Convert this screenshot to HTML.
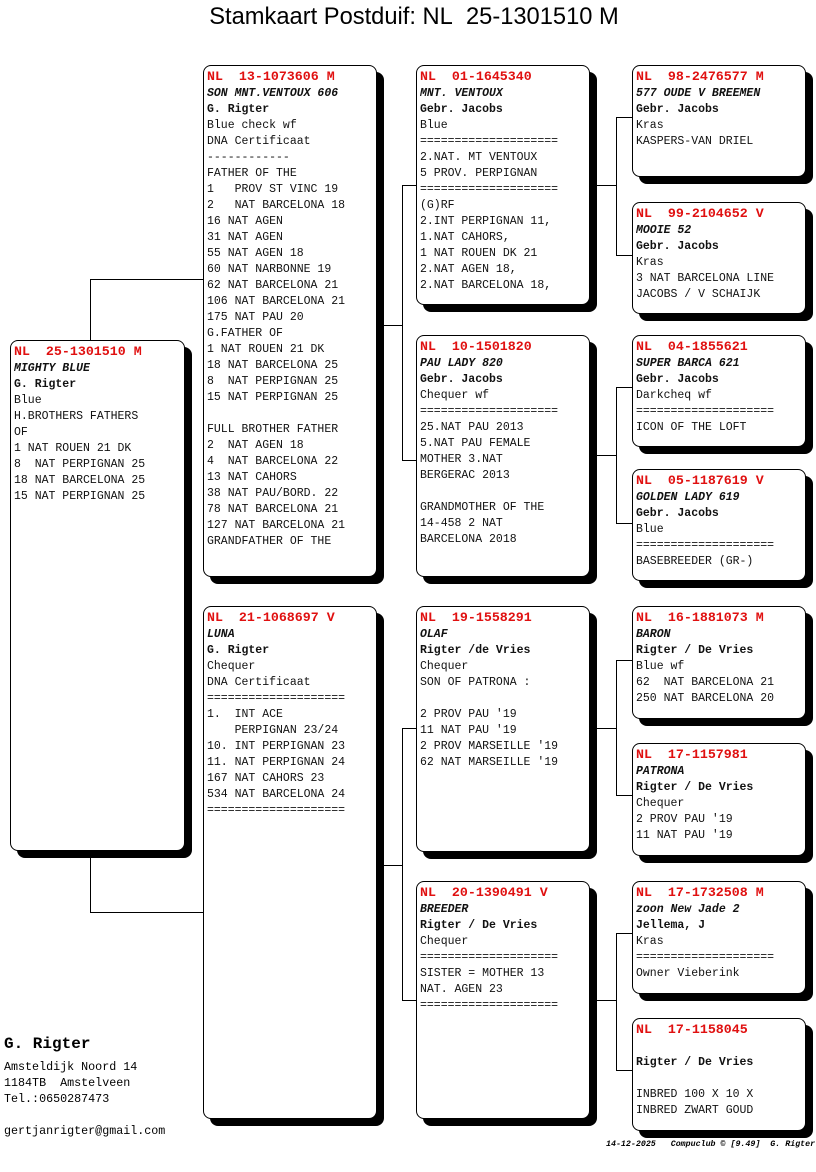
<!DOCTYPE html>
<html><head><meta charset="utf-8"><style>
body{margin:0;width:816px;height:1172px;background:#fff;position:relative;overflow:hidden;font-family:"Liberation Mono",monospace;}
.t{position:absolute;left:6px;width:816px;top:4px;text-align:center;font:23.7px "Liberation Sans",sans-serif;}
.b{position:absolute;border:1px solid #000;border-radius:8px;background:#fff;box-shadow:7px 7px 0 #000;box-sizing:border-box;padding:3px 0 0 3px;font-size:11.5px;line-height:16px;white-space:pre;color:#111;overflow:hidden}
.b .h{color:#e01010;font-weight:bold;font-size:13.3px}
.b .i{font-style:italic;font-weight:bold}
.b .o{font-weight:bold}
.l{position:absolute;background:#000}
.f{position:absolute;font-size:11.7px;line-height:16px;white-space:pre}
</style></head><body>
<div class="t">Stamkaart Postduif: NL&nbsp; 25-1301510 M</div>

<div class="l" style="left:90px;top:279px;width:1px;height:634px"></div>
<div class="l" style="left:90px;top:279px;width:113px;height:1px"></div>
<div class="l" style="left:90px;top:912px;width:113px;height:1px"></div>

<div class="l" style="left:383px;top:325px;width:19px;height:1px"></div>
<div class="l" style="left:402px;top:185px;width:1px;height:276px"></div>
<div class="l" style="left:402px;top:185px;width:14px;height:1px"></div>
<div class="l" style="left:402px;top:460px;width:14px;height:1px"></div>

<div class="l" style="left:383px;top:865px;width:19px;height:1px"></div>
<div class="l" style="left:402px;top:728px;width:1px;height:273px"></div>
<div class="l" style="left:402px;top:728px;width:14px;height:1px"></div>
<div class="l" style="left:402px;top:1000px;width:14px;height:1px"></div>

<div class="l" style="left:596px;top:185px;width:20px;height:1px"></div>
<div class="l" style="left:616px;top:117px;width:1px;height:139px"></div>
<div class="l" style="left:616px;top:117px;width:16px;height:1px"></div>
<div class="l" style="left:616px;top:255px;width:16px;height:1px"></div>

<div class="l" style="left:596px;top:455px;width:20px;height:1px"></div>
<div class="l" style="left:616px;top:387px;width:1px;height:137px"></div>
<div class="l" style="left:616px;top:387px;width:16px;height:1px"></div>
<div class="l" style="left:616px;top:523px;width:16px;height:1px"></div>

<div class="l" style="left:596px;top:728px;width:20px;height:1px"></div>
<div class="l" style="left:616px;top:660px;width:1px;height:136px"></div>
<div class="l" style="left:616px;top:660px;width:16px;height:1px"></div>
<div class="l" style="left:616px;top:795px;width:16px;height:1px"></div>

<div class="l" style="left:596px;top:1000px;width:20px;height:1px"></div>
<div class="l" style="left:616px;top:933px;width:1px;height:138px"></div>
<div class="l" style="left:616px;top:933px;width:16px;height:1px"></div>
<div class="l" style="left:616px;top:1070px;width:16px;height:1px"></div>

<div class="b" style="left:10px;top:340px;width:175px;height:511px"><span class="h">NL  25-1301510 M</span>
<span class="i">MIGHTY BLUE</span>
<span class="o">G. Rigter</span>
Blue
H.BROTHERS FATHERS
OF
1 NAT ROUEN 21 DK
8  NAT PERPIGNAN 25
18 NAT BARCELONA 25
15 NAT PERPIGNAN 25</div>

<div class="b" style="left:203px;top:65px;width:174px;height:512px"><span class="h">NL  13-1073606 M</span>
<span class="i">SON MNT.VENTOUX 606</span>
<span class="o">G. Rigter</span>
Blue check wf
DNA Certificaat
------------
FATHER OF THE
1   PROV ST VINC 19
2   NAT BARCELONA 18
16 NAT AGEN
31 NAT AGEN
55 NAT AGEN 18
60 NAT NARBONNE 19
62 NAT BARCELONA 21
106 NAT BARCELONA 21
175 NAT PAU 20
G.FATHER OF
1 NAT ROUEN 21 DK
18 NAT BARCELONA 25
8  NAT PERPIGNAN 25
15 NAT PERPIGNAN 25

FULL BROTHER FATHER
2  NAT AGEN 18
4  NAT BARCELONA 22
13 NAT CAHORS
38 NAT PAU/BORD. 22
78 NAT BARCELONA 21
127 NAT BARCELONA 21
GRANDFATHER OF THE</div>
<div class="b" style="left:203px;top:606px;width:174px;height:513px"><span class="h">NL  21-1068697 V</span>
<span class="i">LUNA</span>
<span class="o">G. Rigter</span>
Chequer
DNA Certificaat
====================
1.  INT ACE
    PERPIGNAN 23/24
10. INT PERPIGNAN 23
11. NAT PERPIGNAN 24
167 NAT CAHORS 23
534 NAT BARCELONA 24
====================</div>

<div class="b" style="left:416px;top:65px;width:174px;height:240px"><span class="h">NL  01-1645340</span>
<span class="i">MNT. VENTOUX</span>
<span class="o">Gebr. Jacobs</span>
Blue
====================
2.NAT. MT VENTOUX
5 PROV. PERPIGNAN
====================
(G)RF
2.INT PERPIGNAN 11,
1.NAT CAHORS,
1 NAT ROUEN DK 21
2.NAT AGEN 18,
2.NAT BARCELONA 18,</div>
<div class="b" style="left:416px;top:335px;width:174px;height:242px"><span class="h">NL  10-1501820</span>
<span class="i">PAU LADY 820</span>
<span class="o">Gebr. Jacobs</span>
Chequer wf
====================
25.NAT PAU 2013
5.NAT PAU FEMALE
MOTHER 3.NAT
BERGERAC 2013

GRANDMOTHER OF THE
14-458 2 NAT
BARCELONA 2018</div>
<div class="b" style="left:416px;top:606px;width:174px;height:246px"><span class="h">NL  19-1558291</span>
<span class="i">OLAF</span>
<span class="o">Rigter /de Vries</span>
Chequer
SON OF PATRONA :

2 PROV PAU '19
11 NAT PAU '19
2 PROV MARSEILLE '19
62 NAT MARSEILLE '19</div>
<div class="b" style="left:416px;top:881px;width:174px;height:238px"><span class="h">NL  20-1390491 V</span>
<span class="i">BREEDER</span>
<span class="o">Rigter / De Vries</span>
Chequer
====================
SISTER = MOTHER 13
NAT. AGEN 23
====================</div>

<div class="b" style="left:632px;top:65px;width:174px;height:112px"><span class="h">NL  98-2476577 M</span>
<span class="i">577 OUDE V BREEMEN</span>
<span class="o">Gebr. Jacobs</span>
Kras
KASPERS-VAN DRIEL</div>
<div class="b" style="left:632px;top:202px;width:174px;height:112px"><span class="h">NL  99-2104652 V</span>
<span class="i">MOOIE 52</span>
<span class="o">Gebr. Jacobs</span>
Kras
3 NAT BARCELONA LINE
JACOBS / V SCHAIJK</div>
<div class="b" style="left:632px;top:335px;width:174px;height:112px"><span class="h">NL  04-1855621</span>
<span class="i">SUPER BARCA 621</span>
<span class="o">Gebr. Jacobs</span>
Darkcheq wf
====================
ICON OF THE LOFT</div>
<div class="b" style="left:632px;top:469px;width:174px;height:112px"><span class="h">NL  05-1187619 V</span>
<span class="i">GOLDEN LADY 619</span>
<span class="o">Gebr. Jacobs</span>
Blue
====================
BASEBREEDER (GR-)</div>
<div class="b" style="left:632px;top:606px;width:174px;height:113px"><span class="h">NL  16-1881073 M</span>
<span class="i">BARON</span>
<span class="o">Rigter / De Vries</span>
Blue wf
62  NAT BARCELONA 21
250 NAT BARCELONA 20</div>
<div class="b" style="left:632px;top:743px;width:174px;height:113px"><span class="h">NL  17-1157981</span>
<span class="i">PATRONA</span>
<span class="o">Rigter / De Vries</span>
Chequer
2 PROV PAU '19
11 NAT PAU '19</div>
<div class="b" style="left:632px;top:881px;width:174px;height:113px"><span class="h">NL  17-1732508 M</span>
<span class="i">zoon New Jade 2</span>
<span class="o">Jellema, J</span>
Kras
====================
Owner Vieberink</div>
<div class="b" style="left:632px;top:1018px;width:174px;height:113px"><span class="h">NL  17-1158045</span>

<span class="o">Rigter / De Vries</span>

INBRED 100 X 10 X
INBRED ZWART GOUD</div>

<div class="f" style="left:4px;top:1035px;font-weight:bold;font-size:16px;line-height:18px">G. Rigter</div>
<div class="f" style="left:4px;top:1059px">Amsteldijk Noord 14
1184TB  Amstelveen
Tel.:0650287473

gertjanrigter@gmail.com</div>
<div class="f" style="left:606px;top:1137px;font-size:8.3px;font-style:italic;font-weight:bold">14-12-2025   Compuclub © [9.49]  G. Rigter</div>
</body></html>
